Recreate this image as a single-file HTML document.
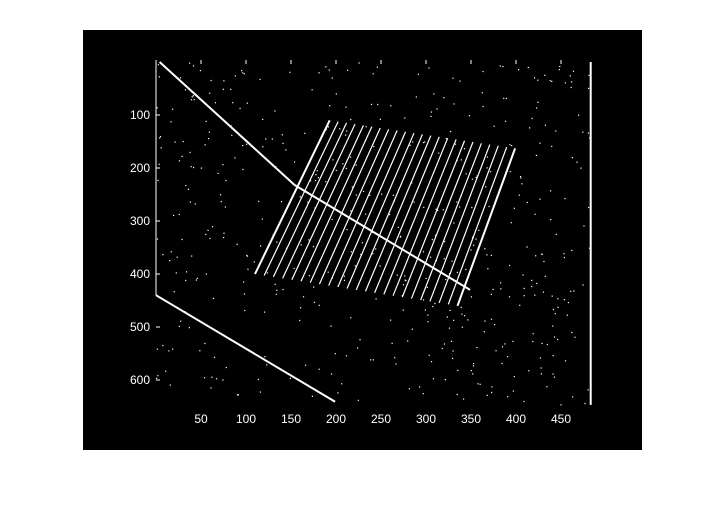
<!DOCTYPE html>
<html><head><meta charset="utf-8"><style>
body{margin:0;background:#fff;width:725px;height:506px;overflow:hidden}
svg{display:block}
text{font-family:"Liberation Sans",sans-serif;font-size:12px;fill:#fff}
</style></head><body>
<svg id="c" width="725" height="506">
<rect x="83" y="30" width="559" height="420" fill="#000"/>
<g id="img"></g>
<g id="ax"></g>
</svg>
<script>
const xTicks=[50,100,150,200,250,300,350,400,450];
const yTicks=[100,200,300,400,500,600];
const segs=[[4,0,154,232],[154,232,349,430],[0,440,199,641],[483,0,483,647]];
const quadTop=[[193,110],[399,163]];
const quadBot=[[110,400],[335,460]];
const hatchCount=22;
const X=v=>156+v*0.9, Y=v=>62+v*0.53;
const NS="http://www.w3.org/2000/svg";
const img=document.getElementById('img'), ax=document.getElementById('ax');
function line(g,x1,y1,x2,y2,w,name){const l=document.createElementNS(NS,'line');
l.setAttribute('x1',x1);l.setAttribute('y1',y1);l.setAttribute('x2',x2);l.setAttribute('y2',y2);
l.setAttribute('stroke','#fff');l.setAttribute('stroke-width',w);


g.appendChild(l);}
segs.forEach((s,i)=>line(img,X(s[0]),Y(s[1]),X(s[2]),Y(s[3]),2,'edge-line-'+i));
// notebook outline and hatching
const [t0,t1]=quadTop,[b0,b1]=quadBot;
line(img,X(t0[0]),Y(t0[1]),X(b0[0]),Y(b0[1]),2,'notebook-left-edge');
line(img,X(t1[0]),Y(t1[1]),X(b1[0]),Y(b1[1]),2,'notebook-right-edge');
for(let i=1;i<hatchCount;i++){const f=i/hatchCount;
const tx=t0[0]+(t1[0]-t0[0])*f,ty=t0[1]+(t1[1]-t0[1])*f,bx=b0[0]+(b1[0]-b0[0])*f,by=b0[1]+(b1[1]-b0[1])*f;
line(img,X(tx),Y(ty),X(bx),Y(by),1.2,'notebook-hatch');}
// speckle
let s=7;const r=()=>{s=(s*16807)%2147483647;return s/2147483647;};
for(let i=0;i<500;i++){const c=document.createElementNS(NS,'rect');
c.setAttribute('x',X(r()*483));c.setAttribute('y',Y(r()*647));c.setAttribute('width',1.2);c.setAttribute('height',1.2);c.setAttribute('fill','#fff');


img.appendChild(c);}
xTicks.forEach(v=>{const t=document.createElementNS(NS,'text');t.setAttribute('x',X(v));t.setAttribute('y',423);t.setAttribute('text-anchor','middle');t.textContent=v;


ax.appendChild(t);
line(ax,X(v),60,X(v),64,1,'x-tick');});
yTicks.forEach(v=>{const t=document.createElementNS(NS,'text');t.setAttribute('x',150);t.setAttribute('y',Y(v)+4);t.setAttribute('text-anchor','end');t.textContent=v;


ax.appendChild(t);
line(ax,156,Y(v),160,Y(v),1,'y-tick');});
line(ax,156,60,156,Y(440),1,'left-edge');
</script>
</body></html>
